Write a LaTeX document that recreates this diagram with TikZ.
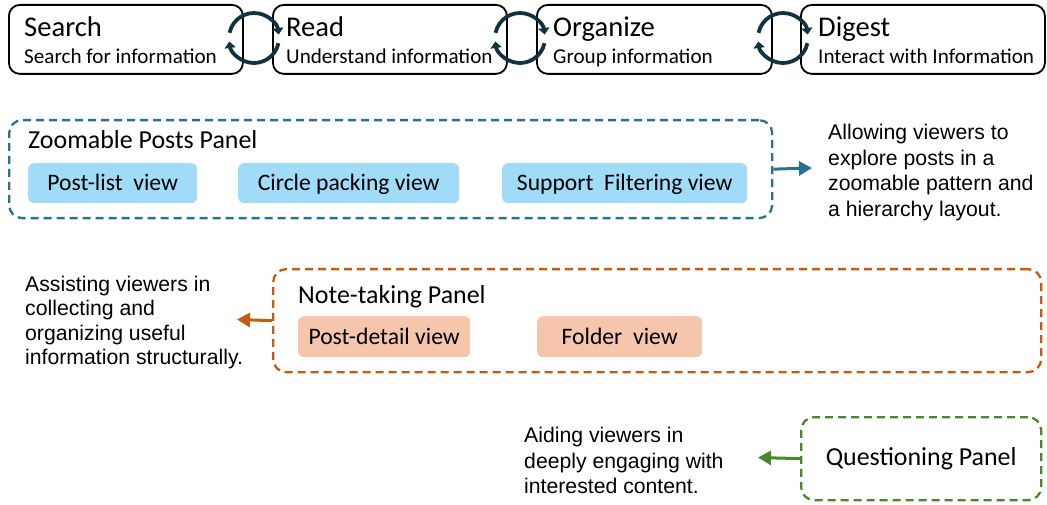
\documentclass[tikz,border=0pt]{standalone}
\usepackage{fontspec}
\setmainfont{Carlito}
\newfontfamily\arialf{Liberation Sans}
\usetikzlibrary{arrows.meta}
\definecolor{cyccol}{HTML}{12323F}
\definecolor{bluedash}{HTML}{2A7092}
\definecolor{bluefill}{HTML}{A0DCF8}
\definecolor{orgdash}{HTML}{C55A11}
\definecolor{orgfill}{HTML}{F5C6AB}
\definecolor{grndash}{HTML}{4A862C}
\tikzset{
  x=1bp, y=1bp,
  stagebox/.style={draw=black, line width=1.8bp, rounded corners=11bp, anchor=north west, inner sep=0pt},
  ttl/.style={anchor=base west, inner sep=0pt, font=\fontsize{28.7}{30}\selectfont},
  sub/.style={anchor=base west, inner sep=0pt, font=\fontsize{21.2}{23}\selectfont},
  cyc/.style={draw=cyccol, line width=3.8bp, -{Triangle[width=11bp,length=6.5bp]}},
  panel/.style={line width=2.3bp, dash pattern=on 8bp off 5bp, rounded corners=13bp, anchor=north west, inner sep=0pt},
  viewbox/.style={rounded corners=6bp, anchor=north west, inner sep=0pt},
  viewtxt/.style={inner sep=0pt, text height=16bp, text depth=4bp, font=\fontsize{23.7}{25}\selectfont},
  ptitle/.style={anchor=base west, inner sep=0pt, font=\fontsize{26}{28}\selectfont},
  desc/.style={anchor=west, inner sep=0pt, align=left, font=\arialf\fontsize{21.3}{25.7}\selectfont},
  parrow/.style={line width=3bp, -{Triangle[width=14bp,length=13bp]}},
}
\begin{document}
\begin{tikzpicture}
\useasboundingbox (0,0) rectangle (1047,-505);
% stage boxes
\node[stagebox, minimum width=234bp, minimum height=69bp] (search) at (8,-4) {};
\node[stagebox, minimum width=234bp, minimum height=69bp] (read) at (272,-4) {};
\node[stagebox, minimum width=235bp, minimum height=69bp] (organize) at (536,-4) {};
\node[stagebox, minimum width=244bp, minimum height=69bp] (digest) at (800,-4) {};
\node[ttl] (t1) at (24,-37) {Search};
\node[sub] (s1) at (24,-64) {Search for information};
\node[ttl] (t2) at (286,-37) {Read};
\node[sub] (s2) at (286,-64) {Understand information};
\node[ttl] (t3) at (553,-37) {Organize};
\node[sub] (s3) at (553,-64) {Group information};
\node[ttl] (t4) at (818,-37) {Digest};
\node[sub] (s4) at (818,-64) {Interact with Information};
% cycle icons
\foreach \cx/\nm in {254/c1, 520/c2, 783/c3}{
  \coordinate (\nm) at (\cx,-38);
  \draw[cyc] (\nm) ++(168:25) arc[start angle=168, end angle=8, radius=25];
  \draw[cyc] (\nm) ++(-12:25) arc[start angle=-12, end angle=-172, radius=25];
}
% zoomable panel
\node[panel, draw=bluedash, minimum width=763bp, minimum height=98bp] (zp) at (8,-119) {};
\node[ptitle] (zpt) at (28,-149) {Zoomable Posts Panel};
\node[viewbox, fill=bluefill, minimum width=169bp, minimum height=40bp] (v1) at (28,-163) {};
\node[viewtxt] (v1t) at ([yshift=-1.5bp]v1.center) {Post-list\ \ view};
\node[viewbox, fill=bluefill, minimum width=221bp, minimum height=40bp] (v2) at (238,-163) {};
\node[viewtxt] (v2t) at ([yshift=-1.5bp]v2.center) {Circle packing view};
\node[viewbox, fill=bluefill, minimum width=245bp, minimum height=40bp] (v3) at (502,-163) {};
\node[viewtxt] (v3t) at ([yshift=-1.5bp]v3.center) {Support\ \ Filtering view};
\node[desc] (d1) at (828,-172.5) {Allowing viewers to\\explore posts in a\\zoomable pattern and\\a hierarchy layout.};
\coordinate (a1) at (812,-168);
\draw[parrow, draw=bluedash, fill=bluedash] (zp.east) -- (a1);
% note-taking panel
\node[panel, draw=orgdash, minimum width=768bp, minimum height=103bp] (np) at (272,-268) {};
\node[ptitle] (npt) at (298,-304) {Note-taking Panel};
\node[viewbox, fill=orgfill, minimum width=172bp, minimum height=41bp] (v4) at (298,-316) {};
\node[viewtxt] (v4t) at ([yshift=-1.5bp]v4.center) {Post-detail view};
\node[viewbox, fill=orgfill, minimum width=165bp, minimum height=41bp] (v5) at (537,-316) {};
\node[viewtxt] (v5t) at ([yshift=-1.5bp]v5.center) {Folder\ \ view};
\node[desc, font=\arialf\fontsize{21.3}{24.5}\selectfont] (d2) at (25,-322.5) {Assisting viewers in\\collecting and\\organizing useful\\information structurally.};
\coordinate (a2) at (237,-319.5);
\draw[parrow, draw=orgdash, fill=orgdash] (np.west) -- (a2);
% questioning panel
\node[panel, draw=grndash, minimum width=240bp, minimum height=83bp] (qp) at (800,-416) {};
\node[font=\fontsize{26}{28}\selectfont, inner sep=0pt] (qpt) at (qp.center) {Questioning Panel};
\node[desc] (d3) at (524,-460.5) {Aiding viewers in\\deeply engaging with\\interested content.};
\coordinate (a3) at (758,-457.5);
\draw[parrow, draw=grndash, fill=grndash] (qp.west) -- (a3);
\end{tikzpicture}
\end{document}
